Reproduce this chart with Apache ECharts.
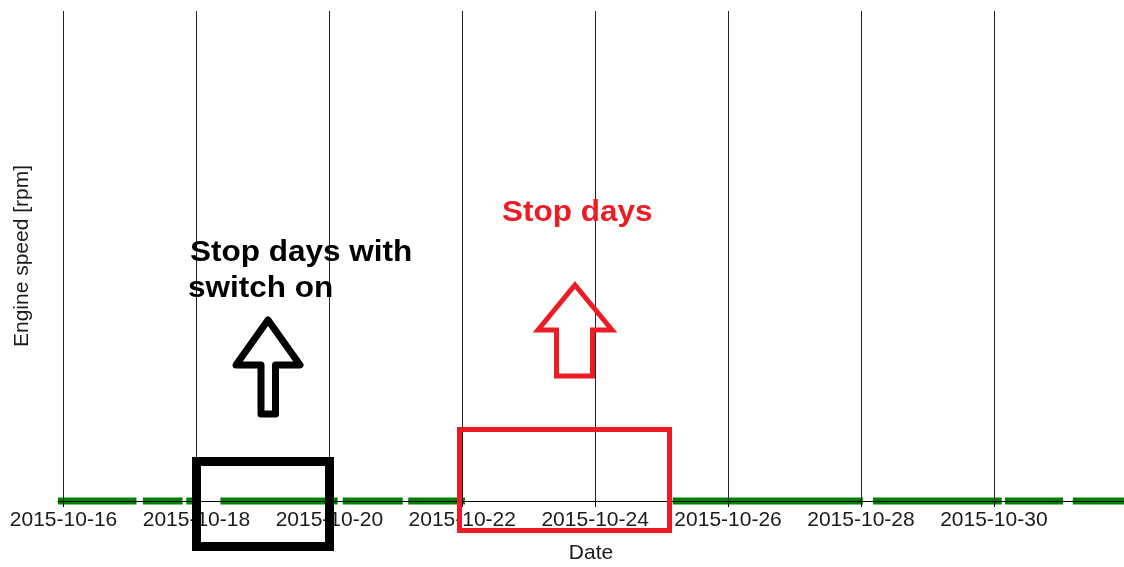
<!DOCTYPE html>
<html>
<head>
<meta charset="utf-8">
<script src="https://cdn.jsdelivr.net/npm/echarts@6/dist/echarts.min.js"></script>
<style>
  html, body { margin: 0; padding: 0; background: #fff; }
  #chart { width: 1124px; height: 567px; }
</style>
</head>
<body>
<div id="chart"></div>
<script>
// running periods (engine on)
const runStart = ['2015-10-15 22:00', '2015-10-17 04:40', '2015-10-17 20:20', '2015-10-18 08:40', '2015-10-20 04:50',
  '2015-10-21 04:30', '2015-10-25 04:00', '2015-10-28 04:20', '2015-10-30 04:00', '2015-10-31 04:30']
const runEnd = ['2015-10-17 02:20', '2015-10-17 19:00', '2015-10-18 01:00', '2015-10-20 03:00', '2015-10-21 02:30',
  '2015-10-22 01:00', '2015-10-28 00:40', '2015-10-30 02:50', '2015-10-31 01:00', '2015-10-31 23:00']
const runLevel = 0
const tickDates = ['2015-10-16', '2015-10-18', '2015-10-20', '2015-10-22', '2015-10-24', '2015-10-26', '2015-10-28', '2015-10-30']
const axisMin = '2015-10-15 22:00'
const axisMax = '2015-10-31 23:00'

function toTime(s) {
  return +echarts.time.parse(s)
}

const runData = []
runStart.forEach((s, i) => {
  runData.push([toTime(s), runLevel])
  runData.push([toTime(runEnd[i]), runLevel])
  runData.push([toTime(runEnd[i]), null])
})

const chart = echarts.init(document.getElementById('chart'))
const font = '"Liberation Sans", Arial, sans-serif'

// hand-drawn annotations on top of the chart
function note(x, y, text, color) {
  return {
    type: 'text', z: 100, x: x, y: y, scaleX: 1.05,
    style: { x: 0, y: 0, text: text, fill: color, font: 'bold 30px ' + font, verticalAlign: 'middle' }
  }
}

chart.setOption({
  animation: false,
  backgroundColor: '#fff',
  grid: { left: 58, right: 0, top: 11, bottom: 66, containLabel: false, outerBoundsMode: 'none' },
  xAxis: {
    type: 'value',
    min: toTime(axisMin),
    max: toTime(axisMax),
    z: 5,
    name: 'Date',
    nameLocation: 'middle',
    nameGap: 42,
    nameTextStyle: { fontFamily: font, fontSize: 21, color: '#1a1a1a' },
    axisLine: { show: true, lineStyle: { color: '#000', width: 1 } },
    axisTick: { show: true, length: 6, lineStyle: { color: '#000' }, customValues: tickDates.map(toTime) },
    axisLabel: {
      customValues: tickDates.map(toTime),
      margin: 9,
      fontFamily: font,
      fontSize: 21,
      color: '#1a1a1a',
      formatter: v => echarts.time.format(v, '{yyyy}-{MM}-{dd}', false)
    },
    splitLine: { show: true, lineStyle: { color: '#222', width: 1 } }
  },
  yAxis: {
    type: 'value',
    min: 0,
    max: 1000,
    name: 'Engine speed [rpm]',
    nameLocation: 'middle',
    nameGap: 25,
    nameTextStyle: { fontFamily: font, fontSize: 21, color: '#1a1a1a' },
    axisLine: { show: false },
    axisTick: { show: false },
    axisLabel: { show: false },
    splitLine: { show: false }
  },
  series: [{
    type: 'line',
    data: runData,
    showSymbol: false,
    connectNulls: false,
    clip: false,
    lineStyle: { color: '#008000', width: 7, cap: 'butt' }
  }],
  graphic: [
    { type: 'rect', z: 100, shape: { x: 196.5, y: 461.5, width: 133, height: 85 },
      style: { fill: null, stroke: '#000', lineWidth: 9 } },
    { type: 'rect', z: 100, shape: { x: 459.5, y: 429.5, width: 210, height: 101 },
      style: { fill: null, stroke: '#ed1c24', lineWidth: 5 } },
    { type: 'polygon', z: 100,
      shape: { points: [[268, 320], [300, 365], [275.5, 365], [275.5, 414], [261, 414], [261, 365], [236, 365]] },
      style: { fill: null, stroke: '#000', lineWidth: 7, lineJoin: 'round' } },
    { type: 'polygon', z: 100,
      shape: { points: [[575, 285], [612, 330], [592.5, 330], [592.5, 376], [556.5, 376], [556.5, 330], [538, 330]] },
      style: { fill: null, stroke: '#ed1c24', lineWidth: 5 } },
    note(190, 253, 'Stop days with', '#000'),
    note(188, 289, 'switch on', '#000'),
    note(502, 213, 'Stop days', '#ed1c24')
  ]
})
</script>
</body>
</html>
